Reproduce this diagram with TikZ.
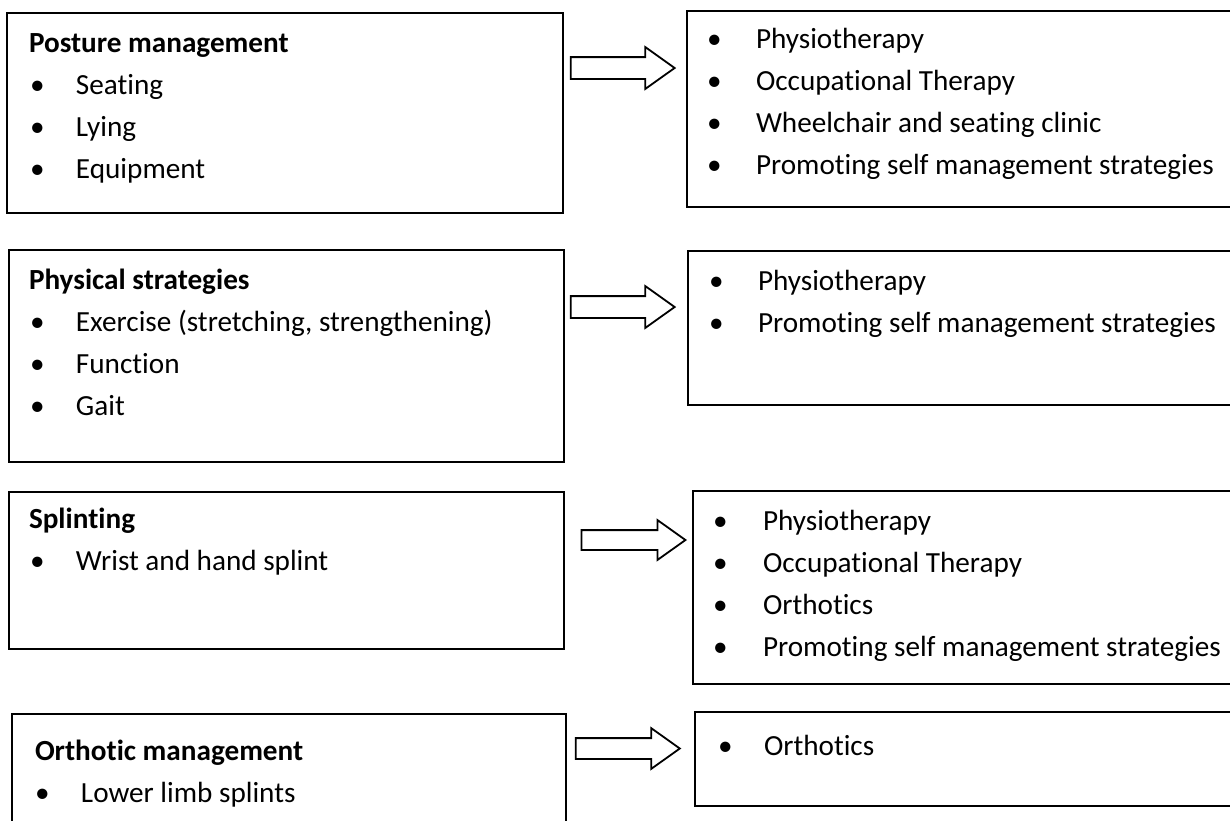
\documentclass[tikz,border=0pt]{standalone}
\usepackage{fontspec}
\setmainfont{Carlito}[Ligatures=NoCommon]
\usetikzlibrary{shapes.arrows}
\newcommand{\bul}[1][23pt]{\makebox[#1][l]{\textbullet}}

\begin{document}
\begin{tikzpicture}[x=0.5pt, y=-0.5pt, line width=1pt,
  box/.style = {draw, rectangle, anchor=north west, inner sep=0pt},
  txt/.style = {anchor=base west, inner sep=0pt, font=\fontsize{14.6}{18}\selectfont},
  arr/.style = {draw, single arrow, single arrow head extend=5pt, single arrow tip angle=71, inner xsep=0pt, inner ysep=5pt, minimum height=52pt, line width=0.9pt}]
\useasboundingbox (0,0) rectangle (1230,820);
\node[box, minimum width=278pt, minimum height=100pt] (1) at (6,12) {};
\node[box, minimum width=277pt, minimum height=98pt] (2) at (686,10) {};
\node[box, minimum width=277.5pt, minimum height=106pt] (3) at (8,249) {};
\node[box, minimum width=276.5pt, minimum height=77pt] (4) at (687,250) {};
\node[box, minimum width=277.5pt, minimum height=78.5pt] (5) at (8,491) {};
\node[box, minimum width=274pt, minimum height=96.5pt] (6) at (692,490) {};
\node[box, minimum width=277pt, minimum height=58.5pt] (7) at (11,713) {};
\node[box, minimum width=273pt, minimum height=47pt] (8) at (694,711) {};

\node[arr] (a1) at (615,68) {};
\node[arr] (a2) at (615,307) {};
\node[arr, inner ysep=4.5pt] (a3) at (626.5,540) {};
\node[arr, inner ysep=4.75pt] (a4) at (620.5,748.5) {};

\node[txt] (1a) at (28,52) {\bfseries Posture management};
\node[txt] (1b) at (29,94) {\bul Seating};
\node[txt] (1c) at (29,136) {\bul Lying};
\node[txt] (1d) at (29,178) {\bul Equipment};

\node[txt] (2a) at (706,48) {\bul[24.5pt]Physiotherapy};
\node[txt] (2b) at (706,90) {\bul[24.5pt]Occupational Therapy};
\node[txt] (2c) at (706,132) {\bul[24.5pt]Wheelchair and seating clinic};
\node[txt] (2d) at (706,174) {\bul[24.5pt]Promoting self management strategies};

\node[txt] (3a) at (28,289) {\bfseries Physical strategies};
\node[txt] (3b) at (29,331) {\bul Exercise (stretching, strengthening)};
\node[txt] (3c) at (29,373) {\bul Function};
\node[txt] (3d) at (29,415) {\bul Gait};

\node[txt] (4a) at (708,290) {\bul[24.5pt]Physiotherapy};
\node[txt] (4b) at (708,332) {\bul[24.5pt]Promoting self management strategies};

\node[txt] (5a) at (28,528) {\bfseries Splinting};
\node[txt] (5b) at (29,570) {\bul Wrist and hand splint};

\node[txt] (6a) at (712,530) {\bul[25pt]Physiotherapy};
\node[txt] (6b) at (712,572) {\bul[25pt]Occupational Therapy};
\node[txt] (6c) at (712,614) {\bul[25pt]Orthotics};
\node[txt] (6d) at (712,656) {\bul[25pt]Promoting self management strategies};

\node[txt] (7a) at (34,760) {\bfseries Orthotic management};
\node[txt] (7b) at (34,802) {\bul Lower limb splints};

\node[txt] (8a) at (717,755) {\bul Orthotics};
\end{tikzpicture}
\end{document}
